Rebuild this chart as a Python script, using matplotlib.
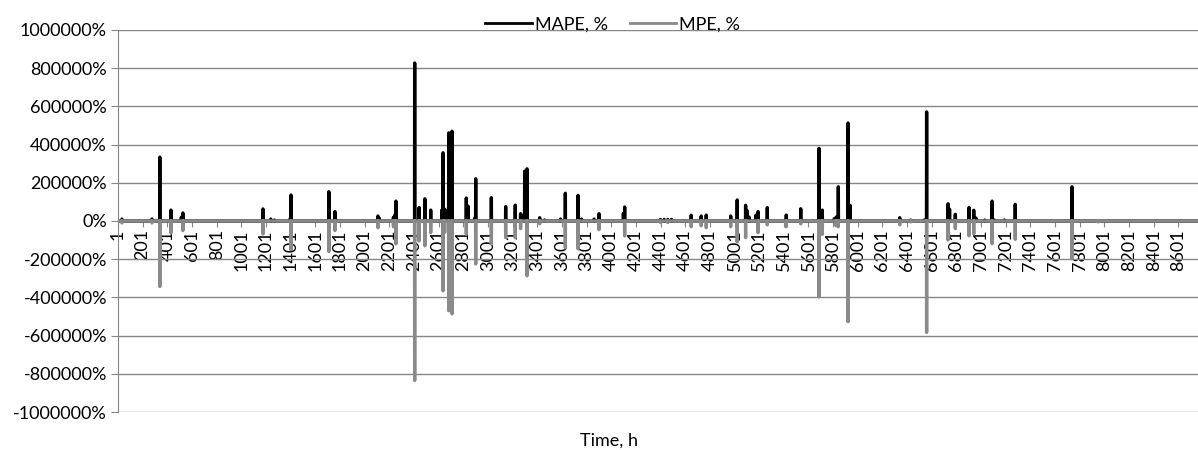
import numpy as np
import matplotlib.pyplot as plt
from matplotlib.ticker import FuncFormatter

plt.rcParams['font.family'] = ['Lato', 'DejaVu Sans']

# hours with a non-zero error and the error value (%)
mapeHours = [33, 276, 340, 430, 515, 527, 1177, 1240, 1270, 1395, 1404, 1711, 1760,
             2109, 2120, 2235, 2245, 2255, 2407, 2443, 2490, 2537, 2630, 2637, 2650,
             2665, 2683, 2710, 2826, 2840, 2895, 2902, 3029, 3145, 3223, 3266, 3275,
             3299, 3318, 3421, 3460, 3590, 3629, 3732, 3760, 3862, 3902, 4100, 4110,
             4400, 4430, 4460, 4490, 4650, 4731, 4772, 4970, 5023, 5091, 5105, 5120,
             5175, 5192, 5267, 5421, 5538, 5686, 5713, 5810, 5825, 5843, 5922, 5938,
             6341, 6430, 6540, 6559, 6733, 6745, 6792, 6903, 6941, 6960, 7030, 7090,
             7110, 7190, 7278, 7738]
mapeValues = [10000, 10000, 334000, 57000, 20000, 42000, 63000, 10000, 5000, 10000,
              136000, 153000, 49000, 26000, 15000, 20000, 30000, 104000, 827000, 70000,
              116000, 57000, 60000, 357000, 62000, 55000, 461000, 470000, 120000, 78000,
              15000, 221000, 122000, 75000, 83000, 38000, 30000, 261000, 273000, 17000,
              5000, 10000, 145000, 134000, 10000, 10000, 38000, 40000, 73000, 8000,
              8000, 8000, 8000, 30000, 26000, 31000, 26000, 110000, 82000, 52000,
              20000, 30000, 49000, 70000, 31000, 64000, 380000, 57000, 12000, 20000,
              179000, 513000, 82000, 17000, 5000, 5000, 571000, 90000, 62000, 35000,
              70000, 56000, 15000, 5000, 104000, 5000, 5000, 87000, 179000]

mpeHours = [33, 276, 340, 430, 527, 1177, 1404, 1711, 1760, 2109, 2235, 2255, 2407,
            2443, 2490, 2537, 2637, 2650, 2683, 2710, 2826, 2902, 3029, 3145, 3223,
            3266, 3318, 3421, 3629, 3732, 3902, 4110, 4400, 4460, 4650, 4731, 4772,
            4970, 5023, 5091, 5192, 5267, 5421, 5538, 5686, 5713, 5825, 5843, 5922,
            6341, 6430, 6559, 6733, 6792, 6903, 6941, 7090, 7278, 7738, 7950]
mpeValues = [-10000, -10000, -343000, -63000, -50000, -68000, -150000, -160000, -50000,
             -35000, -30000, -120000, -835000, -105000, -130000, -61000, -366000,
             -60000, -470000, -486000, -70000, -225000, -120000, -87000, -87000,
             -40000, -287000, -15000, -140000, -146000, -45000, -78000, -8000, -8000,
             -30000, -25000, -35000, -30000, -110000, -87000, -61000, -20000, -30000,
             -15000, -397000, -70000, -25000, -30000, -527000, -20000, -5000, -583000,
             -99000, -40000, -78000, -68000, -118000, -96000, -197000, -5000]

hours = np.arange(1, 8761)
mape = np.zeros(len(hours))
mape[np.array(mapeHours) - 1] = mapeValues
mpe = np.zeros(len(hours))
mpe[np.array(mpeHours) - 1] = mpeValues

fig = plt.figure(figsize=(11.98, 4.5), dpi=100)
ax = fig.add_axes([0.0985, 0.0844, 0.9015, 0.849])

gridColor = '#868686'
ax.set_yticks(np.arange(-1000000, 1000001, 200000))
ax.yaxis.grid(True, color=gridColor, linewidth=1)
ax.set_axisbelow(True)

ax.plot(hours, mape, color='black', linewidth=2.4, label='MAPE, %')
ax.plot(hours, mpe, color='#8a8a8a', linewidth=2.4, label='MPE, %')

ax.set_xlim(1, 8760)
ax.set_ylim(-1000000, 1000000)
ax.yaxis.set_major_formatter(FuncFormatter(lambda v, p: f'{int(round(v))}%'))
ax.set_xticks(np.arange(1, 8761, 200))
ax.tick_params(axis='x', rotation=90, labelsize=13, length=4, color=gridColor, pad=2)
ax.tick_params(axis='y', labelsize=13, length=5, color=gridColor, pad=3)

for s in ['top', 'right']:
    ax.spines[s].set_visible(False)
ax.spines['bottom'].set_position(('data', 0))
ax.spines['bottom'].set_color(gridColor)
ax.spines['left'].set_color(gridColor)

ax.set_xlabel('Time, h', fontsize=13)
ax.xaxis.set_label_coords(0.455, -0.055)

leg = ax.legend(loc='lower center', bbox_to_anchor=(0.458, 0.975), ncol=2, frameon=False,
                fontsize=13, handlelength=2.6, columnspacing=1.2, handletextpad=0.15,
                borderaxespad=0)
for line in leg.get_lines():
    line.set_linewidth(2)

fig.savefig('out.png', dpi=100)
